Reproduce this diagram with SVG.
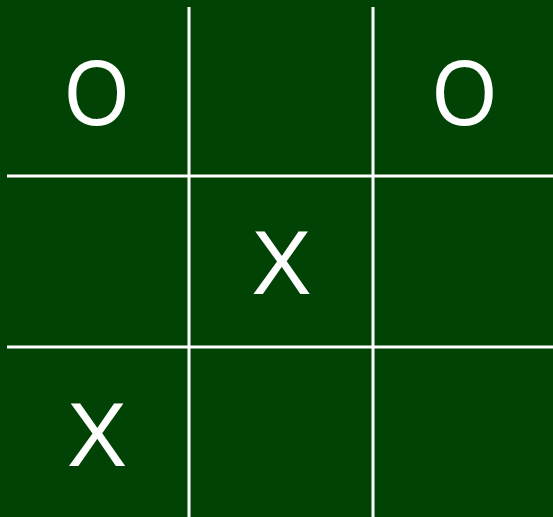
<svg xmlns="http://www.w3.org/2000/svg" width="553" height="517" viewBox="0 0 553 517">
<style>
.ln{stroke:#ffffff;stroke-width:3;fill:none}
.mk{font-family:"Liberation Sans",Arial,sans-serif;font-size:90px;fill:#ffffff;text-anchor:middle}
.mo{font-size:92px}
</style>
<rect x="0" y="0" width="553" height="517" fill="#004305"/>
<g id="grid">
<line class="ln" x1="189" y1="7" x2="189" y2="517"/>
<line class="ln" x1="373" y1="7" x2="373" y2="517"/>
<line class="ln" x1="7" y1="176" x2="553" y2="176"/>
<line class="ln" x1="7" y1="347" x2="553" y2="347"/>
</g>
<g id="c11"><text class="mk mo" transform="translate(96.7,125) scale(0.9,1)" x="0" y="0">O</text></g>
<g id="c13"><text class="mk mo" transform="translate(464.5,125) scale(0.9,1)" x="0" y="0">O</text></g>
<g id="c22"><text class="mk" x="281.5" y="294">X</text></g>
<g id="c31"><text class="mk" x="97" y="466">X</text></g>
</svg>
